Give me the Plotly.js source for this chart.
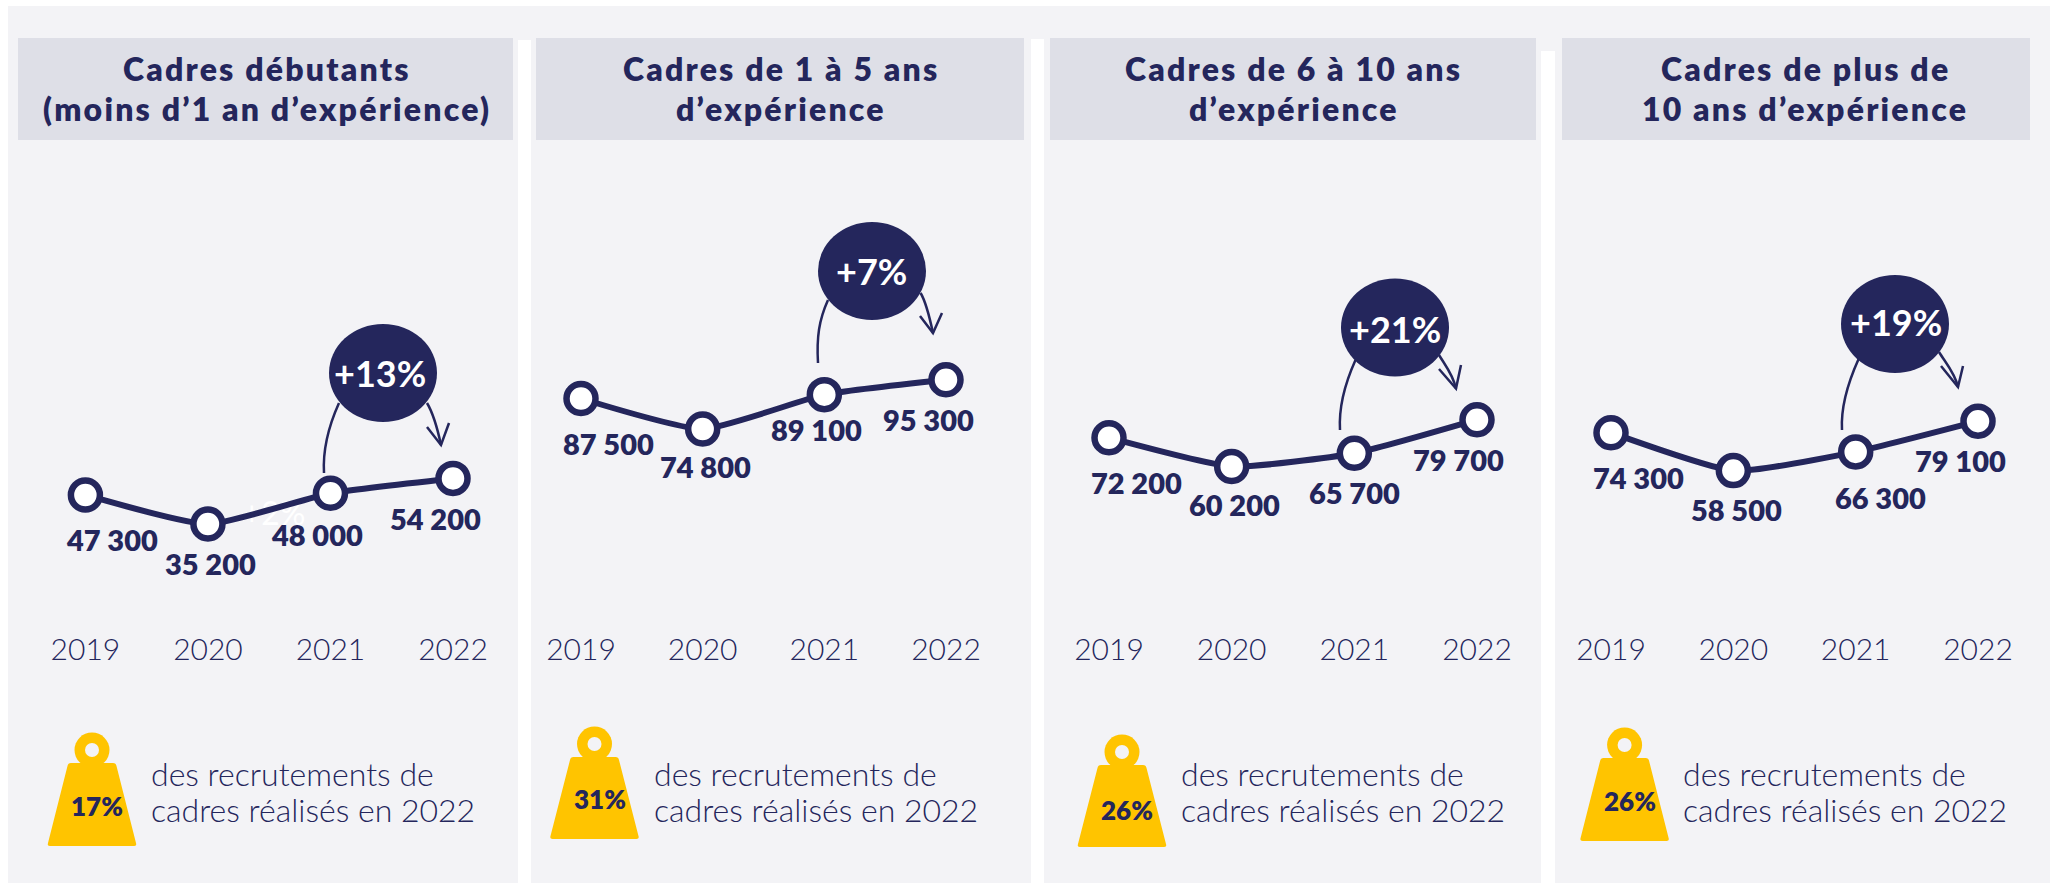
<!DOCTYPE html>
<html><head><meta charset="utf-8">
<script src="https://cdn.plot.ly/plotly-3.0.1.min.js"></script>
<style>html,body{margin:0;padding:0;background:#fff}#c{width:2056px;height:883px}</style></head>
<body><div id="c"></div>
<script>
const years = [2019, 2020, 2021, 2022];
const debutants = [47300, 35200, 48000, 54200];
const unACinq = [87500, 74800, 89100, 95300];
const sixADix = [72200, 60200, 65700, 79700];
const plusDeDix = [74300, 58500, 66300, 79100];
const labelsDebutants = ['47 300', '35 200', '48 000', '54 200'];
const labelsUnACinq = ['87 500', '74 800', '89 100', '95 300'];
const labelsSixADix = ['72 200', '60 200', '65 700', '79 700'];
const labelsPlusDeDix = ['74 300', '58 500', '66 300', '79 100'];
const evolutions = ['+13%', '+7%', '+21%', '+19%'];
const parts2022 = ['17%', '31%', '26%', '26%'];
const titres = [['Cadres débutants','(moins d’1 an d’expérience)'], ['Cadres de 1 à 5 ans','d’expérience'], ['Cadres de 6 à 10 ans','d’expérience'], ['Cadres de plus de','10 ans d’expérience']];
const legende = ['des recrutements de','cadres réalisés en 2022'];

const W = 2056, H = 883, NAVY = '#24265C', BG = '#F3F3F6', HEAD = '#DEDFE7', GOLD = '#FFC400';
const FONT = 'Lato, "Open Sans", sans-serif';
const px = x => x / W, py = y => 1 - y / H;
const series = [debutants, unACinq, sixADix, plusDeDix];
const labels = [labelsDebutants, labelsUnACinq, labelsSixADix, labelsPlusDeDix];
// layout geometry of each panel, in page pixels
const panels = [
  {x0:85.4, x3:453, ya:'y', head:[18,513], tc:266.5, bubble:[383,373], ttx:380, tty:373.5, arcL:[324,473,339,403], arcR:[427,403,441,445], wL:[427,427], wR:[449,423], w:[92,750,846], wt:[97,806], lx:149,
   off:[[27,45],[3,39],[-13,41],[-18,40]]},
  {x0:581, x3:946, ya:'y', head:[536,1024], tc:781, bubble:[872,271], ttx:871.6, tty:271, arcL:[818,363,828,300], arcR:[920.6,293,933,333], wL:[920,316], wR:[942,313], w:[594.5,744,839], wt:[600,799], lx:651.5,
   off:[[27,45],[3,38],[-8,35],[-18,40]]},
  {x0:1109, x3:1477, ya:'y2', head:[1050,1536], tc:1293.6, bubble:[1395,327.5], ttx:1395, tty:329, arcL:[1340,430,1355.5,360], arcR:[1439,355,1456,388.5], wL:[1439,369], wR:[1461,365], w:[1122,752,847], wt:[1127,810], lx:1178.5,
   off:[[27,45],[3,38],[0,39],[-19,40]]},
  {x0:1611, x3:1978, ya:'y2', head:[1562,2030], tc:1805, bubble:[1895,324], ttx:1895.6, tty:322.5, arcL:[1842,430,1858.6,359], arcR:[1939,352,1958,387], wL:[1941,366], wR:[1963,366], w:[1624.6,745,841], wt:[1630,801], lx:1680.5,
   off:[[27,45],[3,39],[25,46],[-18,39]]}
];
const PAD = 0.3;
const traces = [], shapes = [], annotations = [];
const layout = {width:W, height:H, margin:{l:0,r:0,t:0,b:0}, paper_bgcolor:'#fff', plot_bgcolor:'rgba(0,0,0,0)', showlegend:false,
  font:{family:FONT, color:NAVY},
  yaxis:{visible:false, domain:[0,1], range:[(608.5-H)/0.0024, 608.5/0.0024], fixedrange:true},
  yaxis2:{visible:false, domain:[0,1], overlaying:'y', range:[(611-H)/0.0024, 611/0.0024], fixedrange:true}};

function rect(x0,y0,x1,y1,c){shapes.push({type:'rect',xref:'paper',yref:'paper',x0:px(x0),x1:px(x1),y0:py(y0),y1:py(y1),fillcolor:c,line:{width:0},layer:'below'});}
function path(d,o){shapes.push(Object.assign({type:'path',xref:'paper',yref:'paper',path:d,layer:'above'},o));}
const P = (x,y) => px(x).toFixed(5)+','+py(y).toFixed(5);
function note(x,y,text,size,color,weight,xanchor){annotations.push({xref:'paper',yref:'paper',x:px(x),y:py(y),text,showarrow:false,font:{family:FONT,size,color,weight},xanchor:xanchor||'center',yanchor:'middle'});}

rect(8,6,2050,H,BG);
rect(518,40,531,H,'#fff'); rect(1031,39,1044,H,'#fff'); rect(1541,51,1555,H,'#fff');
shapes.push({type:'rect',xref:'paper',yref:'paper',x0:px(240),x1:px(308),y0:py(530),y1:py(495),line:{width:0},fillcolor:'rgba(0,0,0,0)',layer:'below',
  label:{text:'+2%',font:{family:FONT,size:32,color:'#fff'},textposition:'middle center'}});

panels.forEach((p,i)=>{
  const n = i===0?'':String(i+1), s=(p.x3-p.x0)/3;
  layout['xaxis'+n] = {domain:[px(p.x0-PAD*s),px(p.x3+PAD*s)], range:[2019-PAD,2022+PAD], anchor:'free', position:py(629), tickvals:years, tickformat:'d',
    showgrid:false, zeroline:false, showline:false, ticks:'', tickfont:{family:FONT,size:30,color:NAVY,weight:300}, fixedrange:true};
  traces.push({x:years, y:series[i], xaxis:'x'+n, yaxis:p.ya, mode:'lines+markers', cliponaxis:false, hoverinfo:'skip',
    line:{color:NAVY,width:6,shape:'spline',smoothing:0.5},
    marker:{size:29,color:'#fff',line:{color:NAVY,width:6.5}}});
  series[i].forEach((v,j)=>annotations.push({xref:'x'+n,yref:p.ya,x:years[j],y:v,xshift:p.off[j][0],yshift:-p.off[j][1],text:labels[i][j],showarrow:false,
    font:{family:FONT,size:29,color:NAVY,weight:800},xanchor:'center',yanchor:'middle'}));
  rect(p.head[0],38,p.head[1],140,HEAD);
  const sp = t => '<span style="letter-spacing:2.2px">'+t+'</span>';
  note(p.tc,69,sp(titres[i][0]),32,NAVY,800);
  note(p.tc,109,sp(titres[i][1]),32,NAVY,800);
  // bubble
  const [bx,by]=p.bubble;
  shapes.push({type:'circle',xref:'paper',yref:'paper',x0:px(bx-54),x1:px(bx+54),y0:py(by+49),y1:py(by-49),fillcolor:NAVY,line:{width:0},layer:'above'});
  note(p.ttx,p.tty,evolutions[i],36,'#fff',700);
  // arcs
  const a=p.arcL,b=p.arcR, lin={color:NAVY,width:2.5};
  path('M'+P(a[0],a[1])+' C'+P(a[0]-1.5,a[1]-26)+' '+P(a[2]-9,a[3]+20)+' '+P(a[2],a[3]),{line:lin});
  path('M'+P(b[0],b[1])+' C'+P(b[0]+6,b[1]+10)+' '+P(b[2]-3,b[3]-14)+' '+P(b[2],b[3]),{line:lin});
  path('M'+P(p.wL[0],p.wL[1])+' L'+P(b[2],b[3])+' L'+P(p.wR[0],p.wR[1]),{line:lin});
  // weight
  const [wx,ry,wb]=p.w, top=ry+13;
  shapes.push({type:'circle',xref:'paper',yref:'paper',x0:px(wx-17.5),x1:px(wx+17.5),y0:py(ry+17.5),y1:py(ry-17.5),fillcolor:GOLD,line:{width:0},layer:'above'});
  shapes.push({type:'circle',xref:'paper',yref:'paper',x0:px(wx-7),x1:px(wx+7),y0:py(ry+7),y1:py(ry-7),fillcolor:BG,line:{width:0},layer:'above'});
  path('M'+P(wx-21,top)+' Q'+P(wx-24,top)+' '+P(wx-24.5,top+3)+' L'+P(wx-44,wb-3)+' Q'+P(wx-45,wb)+' '+P(wx-42,wb)+' L'+P(wx+42,wb)+' Q'+P(wx+45,wb)+' '+P(wx+44,wb-3)+' L'+P(wx+24.5,top+3)+' Q'+P(wx+24,top)+' '+P(wx+21,top)+' Z',{fillcolor:GOLD,line:{width:0}});
  note(p.wt[0],p.wt[1],parts2022[i],26,NAVY,800);
  note(p.lx,773,legende[0],32,NAVY,300,'left');
  note(p.lx,809,legende[1],32,NAVY,300,'left');
});
layout.shapes=shapes; layout.annotations=annotations;
Plotly.newPlot('c',traces,layout,{displayModeBar:false,staticPlot:true});
</script></body></html>
